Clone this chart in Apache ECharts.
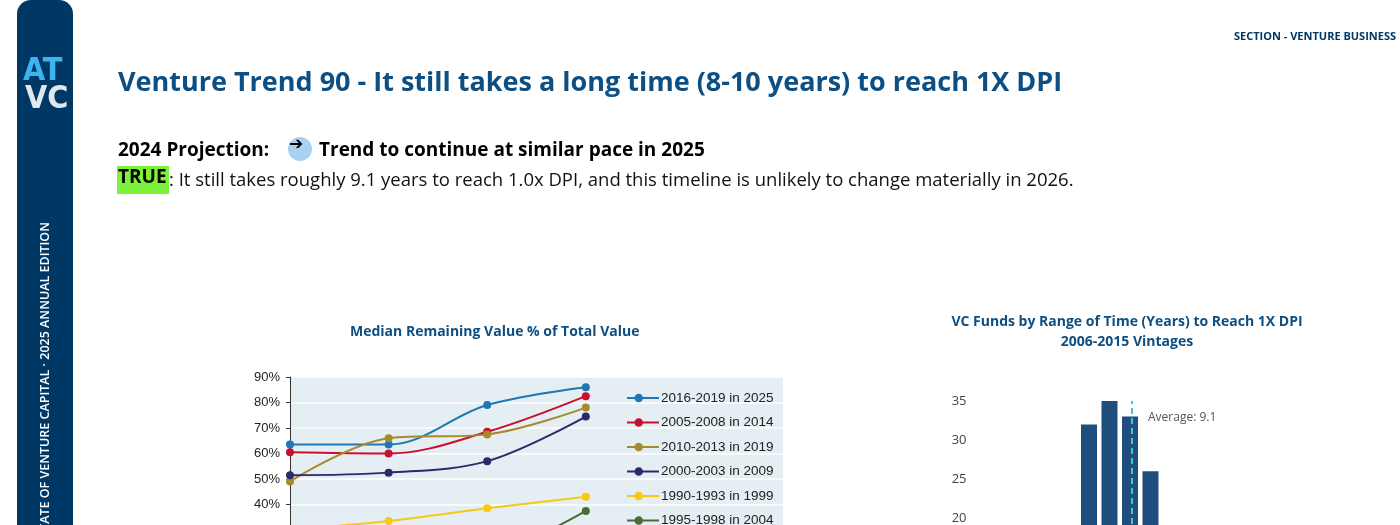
<!DOCTYPE html>
<html lang="en">
<head>
<meta charset="UTF-8">
<title>Venture Trend 90</title>
<script src="https://cdn.jsdelivr.net/npm/echarts@6/dist/echarts.min.js"></script>
<style>
  html, body { margin: 0; padding: 0; background: #fff; overflow: hidden; }
  #main { width: 1400px; height: 720px; }
</style>
</head>
<body>
<div id="main"></div>
<script>
// left chart: median remaining value % of total value
var lineNames = ['2016-2019 in 2025', '2005-2008 in 2014', '2010-2013 in 2019', '2000-2003 in 2009', '1990-1993 in 1999', '1995-1998 in 2004'];
var lineColors = ['#1f77b4', '#c8102e', '#a68a2b', '#2b2a6b', '#f7c912', '#4a6b34'];
var lineValues = [
    [63.5, 63.5, 79, 86],
    [60.5, 60, 68.5, 82.5],
    [49, 66, 67.5, 78],
    [51.5, 52.5, 57, 74.5],
    [30, 33.5, 38.5, 43],
    [15, 17, 20, 37.5]
];
// right chart: VC funds by years to reach 1X DPI
var barYears = [4, 5, 6, 7, 8, 9, 10, 11, 12, 13];
var barCounts = [3, 8, 15, 32, 35, 33, 26, 14, 7, 3];
var averageYears = 9.1;

var headFont = '"Open Sans", sans-serif';

var series = [];
for (var i = 0; i < lineNames.length; i++) {
    series.push({
        name: lineNames[i], type: 'line', smooth: 0.35,
        xAxisIndex: 0, yAxisIndex: 0,
        symbol: 'circle', symbolSize: 8,
        lineStyle: { width: 2, color: lineColors[i] },
        itemStyle: { color: lineColors[i] },
        data: lineValues[i].map(function (v, j) { return [j, v]; })
    });
}
series.push({
    type: 'bar', xAxisIndex: 1, yAxisIndex: 1, barWidth: 16,
    itemStyle: { color: '#1f4e7e' },
    data: barYears.map(function (y, j) { return [y, barCounts[j]]; }),
    markLine: {
        silent: true, symbol: 'none',
        lineStyle: { color: '#3cc6d6', type: [6, 4], width: 2 },
        label: { show: false },
        data: [{ xAxis: averageYears }]
    }
});

var option = {
    animation: false,
    legend: {
        data: lineNames, orient: 'vertical', left: 622, top: 386, itemGap: 10.5,
        icon: 'path://M0,4 L30,4 L30,6 L0,6 Z M11,1 A4,4 0 1 1 11,9 A4,4 0 1 1 11,1 Z',
        itemWidth: 32, itemHeight: 14, itemStyle: {},
        textStyle: { fontFamily: 'Arial, "Liberation Sans", sans-serif', fontSize: 13.5, color: '#222', padding: [0, 0, 0, -3] }
    },
    grid: [
        { left: 290, top: 377, width: 493, height: 229.5, show: true, backgroundColor: '#e4eef3', borderWidth: 0 },
        { left: 986.5, top: 401, width: 287, height: 273 }
    ],
    xAxis: [
        { type: 'value', gridIndex: 0, min: 0, max: 5, axisLabel: { show: false }, splitLine: { show: false }, axisTick: { show: false } },
        { type: 'value', gridIndex: 1, min: 2, max: 16, axisLabel: { show: false }, splitLine: { show: false }, axisLine: { show: false }, axisTick: { show: false } }
    ],
    yAxis: [
        { type: 'value', gridIndex: 0, min: 0, max: 90, interval: 10,
          axisLine: { show: true, lineStyle: { color: '#333' } }, axisTick: { show: true, length: 4 },
          axisLabel: { formatter: '{value}%', color: '#222', fontSize: 13, fontFamily: 'Arial, "Liberation Sans", sans-serif', margin: 10 },
          splitLine: { lineStyle: { color: '#ffffff', width: 1.5 } } },
        { type: 'value', gridIndex: 1, min: 0, max: 35, interval: 5,
          axisLine: { show: false }, axisTick: { show: false }, splitLine: { show: false },
          axisLabel: { color: '#444', fontSize: 13, fontFamily: '"Open Sans", sans-serif', margin: 20 } }
    ],
    series: series,
    graphic: [
        { type: 'rect', shape: { x: 17, y: 0, width: 56, height: 760, r: [14, 14, 0, 0] }, style: { fill: '#003865' } },
        { type: 'text', left: 23, top: 56, style: { text: 'AT', fill: '#3fb3f0', font: 'bold 32px "DejaVu Sans Condensed", sans-serif' } },
        { type: 'text', left: 25, top: 84, style: { text: 'VC', fill: '#dfe8ec', font: 'bold 32px "DejaVu Sans Condensed", sans-serif' } },
        { type: 'text', x: 45, y: 222, rotation: Math.PI / 2,
          style: { text: 'STATE OF VENTURE CAPITAL · 2025 ANNUAL EDITION', fill: '#ffffff', font: '600 12.5px ' + headFont, align: 'right', verticalAlign: 'middle' } },
        { type: 'text', left: 1234, top: 31, style: { text: 'SECTION - VENTURE BUSINESS', fill: '#003865', font: 'bold 11px ' + headFont } },
        { type: 'text', left: 118, top: 70, style: { text: 'Venture Trend 90 - It still takes a long time (8-10 years) to reach 1X DPI', fill: '#0d4f82', font: 'bold 27px ' + headFont } },
        { type: 'text', left: 118, top: 141, style: { text: '2024 Projection:', fill: '#000', font: 'bold 19px ' + headFont } },
        { type: 'circle', shape: { cx: 300, cy: 149, r: 12 }, style: { fill: '#a9d2f2' } },
        { type: 'text', left: 289, top: 136, style: { text: '➔', fill: '#000', font: 'bold 17px "DejaVu Sans", sans-serif' } },
        { type: 'text', left: 319, top: 141, style: { text: 'Trend to continue at similar pace in 2025', fill: '#000', font: 'bold 19px ' + headFont } },
        { type: 'rect', shape: { x: 117, y: 166, width: 52, height: 28 }, style: { fill: '#7cf23a' } },
        { type: 'text', left: 118, top: 168, style: { text: 'TRUE', fill: '#000', font: 'bold 19px ' + headFont } },
        { type: 'text', left: 169, top: 171, style: { text: ': It still takes roughly 9.1 years to reach 1.0x DPI, and this timeline is unlikely to change materially in 2026.', fill: '#111', font: '18.5px ' + headFont } },
        { type: 'text', left: 350, top: 325, style: { text: 'Median Remaining Value % of Total Value', fill: '#0d4f82', font: 'bold 14px ' + headFont } },
        { type: 'text', x: 1127, y: 312, style: { text: 'VC Funds by Range of Time (Years) to Reach 1X DPI\n2006-2015 Vintages', fill: '#0d4f82', font: 'bold 14px ' + headFont, align: 'center', lineHeight: 20 } },
        { type: 'text', left: 1148, top: 412, style: { text: 'Average: 9.1', fill: '#555', font: '12px "Open Sans", sans-serif' } }
    ]
};

var chart = echarts.init(document.getElementById('main'));
chart.setOption(option);
</script>
</body>
</html>
